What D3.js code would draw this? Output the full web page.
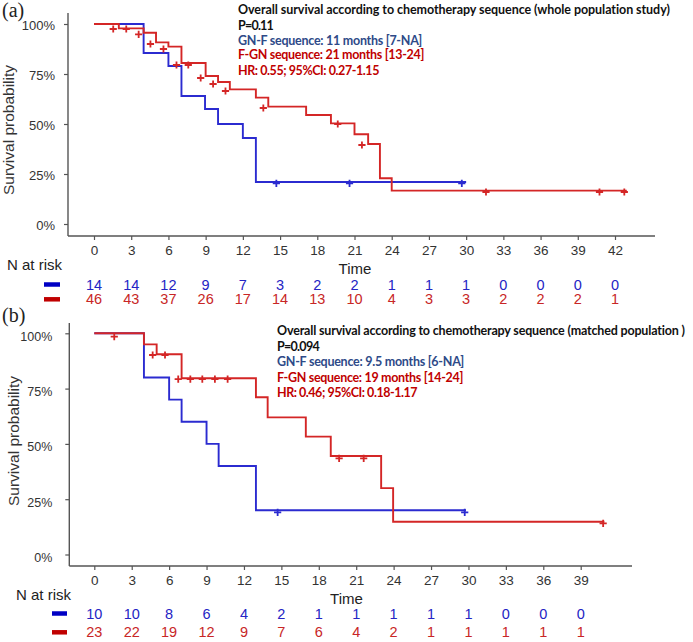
<!DOCTYPE html>
<html><head><meta charset="utf-8">
<script src="https://cdn.jsdelivr.net/npm/d3@7"></script>
<style>html,body{margin:0;padding:0;background:#fff;} svg{display:block;}</style>
</head><body>
<script>
// ---------------- DATA ----------------
// Panel (a): whole population
const timeTicksA = [0,3,6,9,12,15,18,21,24,27,30,33,36,39,42];
const riskGNF_A  = [14,14,12,9,7,3,2,2,1,1,1,0,0,0,0];
const riskFGN_A  = [46,43,37,26,17,14,13,10,4,3,3,2,2,2,1];
const gnfTimesA  = [0,4.0,6.0,7.05,8.95,10.0,12.0,13.05,30.0];
const gnfSurvA   = [1,0.855,0.79,0.64,0.575,0.50,0.43,0.21,0.21];
const fgnTimesA  = [0,2.0,4.0,5.0,6.0,7.05,9.0,10.0,10.95,13.05,14.05,17.1,19.1,21.0,22.1,23.05,24.0,42.95];
const fgnSurvA   = [1,0.978,0.956,0.908,0.887,0.805,0.74,0.71,0.673,0.632,0.587,0.545,0.503,0.449,0.40,0.229,0.167,0.167];
const gnfCensTA  = [14.7,20.6,29.65];
const gnfCensSA  = [0.203,0.203,0.203];
const fgnCensTA  = [1.55,2.6,3.6,4.55,5.6,6.65,7.6,8.6,9.6,10.6,13.65,19.65,21.6,31.6,40.75,42.75];
const fgnCensSA  = [0.975,0.975,0.948,0.90,0.875,0.795,0.795,0.73,0.70,0.665,0.58,0.50,0.395,0.16,0.16,0.16];
const annotA = [
  "Overall survival according to chemotherapy sequence (whole population study)",
  "P=0.11",
  "GN-F sequence: 11 months [7-NA]",
  "F-GN sequence: 21 months [13-24]",
  "HR: 0.55; 95%CI: 0.27-1.15"
];

// Panel (b): matched population
const timeTicksB = [0,3,6,9,12,15,18,21,24,27,30,33,36,39];
const riskGNF_B  = [10,10,8,6,4,2,1,1,1,1,1,0,0,0];
const riskFGN_B  = [23,22,19,12,9,7,6,4,2,1,1,1,1,1];
const gnfTimesB  = [0,3.98,6.0,7.0,9.0,9.97,12.96,29.8];
const gnfSurvB   = [1,0.80,0.70,0.60,0.50,0.40,0.20,0.20];
const fgnTimesB  = [0,3.98,5.0,7.0,12.96,13.9,16.96,18.96,23.0,23.96,40.9];
const fgnSurvB   = [1,0.95,0.905,0.797,0.711,0.62,0.533,0.445,0.30,0.148,0.148];
const gnfCensTB  = [14.7,29.7];
const gnfCensSB  = [0.19,0.19];
const fgnCensTB  = [1.6,4.68,5.67,6.73,7.7,8.66,9.67,10.69,19.63,21.6,40.8];
const fgnCensSB  = [0.985,0.902,0.902,0.793,0.793,0.793,0.793,0.793,0.435,0.435,0.141];
const annotB = [
  "Overall survival according to chemotherapy sequence (matched population )",
  "P=0.094",
  "GN-F sequence: 9.5 months [6-NA]",
  "F-GN sequence: 19 months [14-24]",
  "HR: 0.46; 95%CI: 0.18-1.17"
];

const yTickVals = [0,0.25,0.5,0.75,1];

// ---------------- STYLE ----------------
const BLUE = "#2b2bd0", RED = "#d42626";
const BLUE_TXT = "#2424c4", RED_TXT = "#c82626";
const LEG_BLUE = "#0000c4", LEG_RED = "#c00000";
const ANN_COLORS = ["#111", "#111", "#2e4a88", "#c00000", "#c00000"];
const AXIS_COL = "#555";
const SANS = "'Liberation Sans', Arial, sans-serif";

const svg = d3.select("body").append("svg").attr("width",693).attr("height",642);

function drawPanel(p) {
  const g = svg.append("g");
  const x = d3.scaleLinear().domain(p.xDomain).range(p.xRange);
  const y = d3.scaleLinear().domain([0,1]).range(p.yRange);

  // panel letter
  g.append("text").attr("x",p.letterX).attr("y",p.letterY)
    .attr("font-family","'Liberation Serif','Times New Roman',serif").attr("font-size",20).attr("fill","#222")
    .text(p.letter);

  // axes lines
  g.append("line").attr("x1",p.axisX).attr("x2",p.axisX).attr("y1",p.axisTop).attr("y2",p.axisY)
    .attr("stroke",AXIS_COL).attr("stroke-width",1.4);
  g.append("line").attr("x1",p.axisX).attr("x2",p.axisRight).attr("y1",p.axisY).attr("y2",p.axisY)
    .attr("stroke",AXIS_COL).attr("stroke-width",1.4);

  // y axis
  const ya = g.append("g").attr("transform",`translate(${p.axisX},0)`)
    .call(d3.axisLeft(y).tickValues(yTickVals).tickFormat(d3.format(".0%")).tickSize(4).tickPadding(p.yPad).tickSizeOuter(0));
  ya.select(".domain").remove();
  ya.selectAll(".tick line").attr("stroke",AXIS_COL).attr("stroke-width",1.2);
  ya.selectAll(".tick text").attr("font-family",SANS).attr("font-size",p.yFont).attr("fill","#333").attr("dy",p.yLabDy);

  // x axis
  const xa = g.append("g").attr("transform",`translate(0,${p.axisY})`)
    .call(d3.axisBottom(x).tickValues(p.ticks).tickFormat(d3.format("d")).tickSize(4).tickPadding(5).tickSizeOuter(0));
  xa.select(".domain").remove();
  xa.selectAll(".tick line").attr("stroke",AXIS_COL).attr("stroke-width",1.2);
  xa.selectAll(".tick text").attr("font-family",SANS).attr("font-size",13.5).attr("fill","#333");

  // y label
  g.append("text").attr("transform",`translate(${p.yLabX},${p.yLabY}) rotate(-90)`)
    .attr("text-anchor","middle").attr("font-family",SANS).attr("font-size",15.5).attr("fill","#333")
    .text("Survival probability");

  // curves
  const line = d3.line().x(d=>x(d.t)).y(d=>y(d.s)).curve(d3.curveStepAfter);
  const series = [
    {times:p.gnfT, surv:p.gnfS, ct:p.gnfCT, cs:p.gnfCS, col:BLUE},
    {times:p.fgnT, surv:p.fgnS, ct:p.fgnCT, cs:p.fgnCS, col:RED}
  ];
  series.forEach(s=>{
    const pts = s.times.map((t,i)=>({t, s:s.surv[i]}));
    g.append("path").datum(pts).attr("d",line).attr("fill","none")
      .attr("stroke",s.col).attr("stroke-width",1.9);
    const cens = s.ct.map((t,i)=>({t, s:s.cs[i]}));
    g.selectAll(null).data(cens).enter().append("path")
      .attr("transform",d=>`translate(${x(d.t)},${y(d.s)})`)
      .attr("d","M-3.6,0H3.6M0,-3.6V3.6").attr("stroke",s.col).attr("stroke-width",1.8).attr("fill","none");
  });

  // annotation (fit each line to its measured width by letter-spacing)
  p.annot.forEach((txt,i)=>{
    const t = g.append("text").attr("x",p.annX).attr("y",p.annY[i]).attr("dominant-baseline","central")
      .attr("font-family","Lato, 'Open Sans', sans-serif").attr("font-weight","bold").attr("font-size",12.5)
      .attr("fill",ANN_COLORS[i])
      .text(txt);
    const L = t.node().getComputedTextLength();
    const ls = (p.annW[i] - L) / txt.length;
    t.attr("letter-spacing", ls.toFixed(3) + "px");
  });

  // Time label
  g.append("text").attr("x",p.timeX).attr("y",p.timeY).attr("text-anchor","middle").attr("dominant-baseline","central")
    .attr("font-family",SANS).attr("font-size",15).attr("fill","#222").text("Time");

  // N at risk
  g.append("text").attr("x",p.narX).attr("y",p.narY).attr("dominant-baseline","central")
    .attr("font-family",SANS).attr("font-size",15).attr("fill","#222").text("N at risk");

  // legend dashes
  g.append("line").attr("x1",p.legX[0]).attr("x2",p.legX[1]).attr("y1",p.riskY[0]).attr("y2",p.riskY[0])
    .attr("stroke",LEG_BLUE).attr("stroke-width",4.5);
  g.append("line").attr("x1",p.legX[0]).attr("x2",p.legX[1]).attr("y1",p.riskY[1]).attr("y2",p.riskY[1])
    .attr("stroke",LEG_RED).attr("stroke-width",4.5);

  // risk table
  [[p.riskGNF,BLUE_TXT,p.riskY[0]],[p.riskFGN,RED_TXT,p.riskY[1]]].forEach(([arr,col,yy])=>{
    g.selectAll(null).data(arr).enter().append("text")
      .attr("x",(d,i)=>x(p.ticks[i])).attr("y",yy)
      .attr("text-anchor","middle").attr("dominant-baseline","central")
      .attr("font-family",SANS).attr("font-size",14.5).attr("fill",col).text(d=>d);
  });
}

drawPanel({
  letter:"(a)", letterX:2, letterY:17,
  xDomain:[0,42], xRange:[94,615], yRange:[224,24],
  axisX:68, axisTop:13, axisY:236, axisRight:655,
  yPad:9, yFont:13, yLabDy:"0.4em",
  ticks:timeTicksA,
  yLabX:14, yLabY:130,
  gnfT:gnfTimesA, gnfS:gnfSurvA, gnfCT:gnfCensTA, gnfCS:gnfCensSA,
  fgnT:fgnTimesA, fgnS:fgnSurvA, fgnCT:fgnCensTA, fgnCS:fgnCensSA,
  annot:annotA, annX:238, annY:[9,25,40,54.5,70], annW:[432,35,184,186,141],
  timeX:355, timeY:268, narX:7, narY:264,
  legX:[44,60], riskY:[284.5,299.3],
  riskGNF:riskGNF_A, riskFGN:riskFGN_A
});

drawPanel({
  letter:"(b)", letterX:2, letterY:322,
  xDomain:[0,39], xRange:[94.3,580.7], yRange:[554.5,333.3],
  axisX:69.3, axisTop:323, axisY:566, axisRight:632,
  yPad:13, yFont:12.5, yLabDy:"0.55em",
  ticks:timeTicksB,
  yLabX:18.5, yLabY:441,
  gnfT:gnfTimesB, gnfS:gnfSurvB, gnfCT:gnfCensTB, gnfCS:gnfCensSB,
  fgnT:fgnTimesB, fgnS:fgnSurvB, fgnCT:fgnCensTB, fgnCS:fgnCensSB,
  annot:annotB, annX:277, annY:[330.5,346,361.7,377.7,392.7], annW:[408,42,187,186,140],
  timeX:346.5, timeY:598, narX:16, narY:594,
  legX:[52,67], riskY:[613.5,632.3],
  riskGNF:riskGNF_B, riskFGN:riskFGN_B
});
</script>
</body></html>
